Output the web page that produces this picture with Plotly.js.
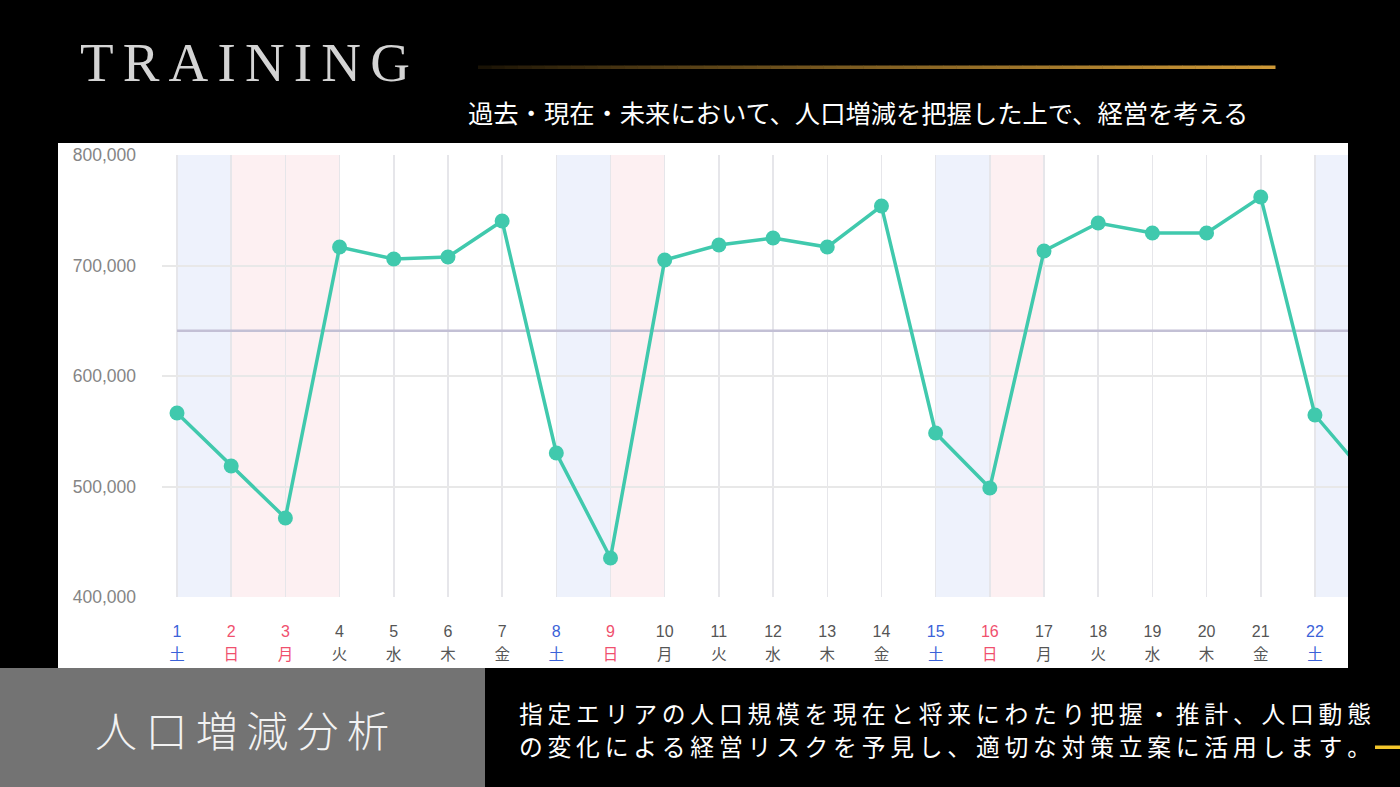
<!DOCTYPE html>
<html>
<head>
<meta charset="utf-8">
<script src="https://cdn.plot.ly/plotly-3.0.1.min.js"></script>
<style>
html,body{margin:0;padding:0;background:#000;}
#chart{width:1400px;height:787px;}
</style>
</head>
<body>
<div id="chart"></div>
<script>
// ---- data ----
const days = [1,2,3,4,5,6,7,8,9,10,11,12,13,14,15,16,17,18,19,20,21,22,23];
const weekdays = ["土","日","月","火","水","木","金","土","日","月","火","水","木","金","土","日","月","火","水","木","金","土","日"];
const holidays = [3]; // national holiday (shown in red)
const population = [566500,518600,471500,716700,705900,707700,740300,530300,435300,705000,718600,724900,716700,753800,548400,498600,713100,738500,729400,729400,762000,564700,507000];
const averageValue = 641000;
const yTicks = [400000,500000,600000,700000,800000];
const yTickLabels = ["400,000","500,000","600,000","700,000","800,000"];

// ---- layout helpers (figure pixels -> paper coords) ----
const W = 1400, H = 787;
const M = {l:162, r:52, t:155, b:190};
const PW = W - M.l - M.r, PH = H - M.t - M.b;
const px = x => (x - M.l) / PW;
const py = y => (H - M.b - y) / PH;

const BLUE = "#3b62d8", RED = "#f0506e", GRAY = "#555555";
function dayColor(i){
  if (weekdays[i] === "土") return BLUE;
  if (weekdays[i] === "日" || holidays.includes(days[i])) return RED;
  return GRAY;
}
const shown = days.filter(d => d <= 22);
const numText = shown.map((d,i) => `<span style="color:${dayColor(i)}">${d}</span>`);
const wdText = shown.map((d,i) => `<span style="color:${dayColor(i)}">${weekdays[i]}</span>`);

const shapes = [];
// white chart panel
shapes.push({type:"rect", xref:"paper", yref:"paper", x0:px(58), x1:px(1348), y0:py(143), y1:py(668), fillcolor:"#ffffff", line:{width:0}, layer:"below"});
// weekend / holiday bands
days.forEach((d,i) => {
  const c = dayColor(i);
  if (c === GRAY) return;
  shapes.push({type:"rect", xref:"x", yref:"paper", x0:d, x1:d+1, y0:0, y1:1,
    fillcolor: c === BLUE ? "#eef2fc" : "#fdf0f2", line:{width:0}, layer:"below"});
});
// gray box bottom-left
shapes.push({type:"rect", xref:"paper", yref:"paper", x0:px(0), x1:px(485), y0:py(787), y1:py(668), fillcolor:"#737373", line:{width:0}, layer:"below"});
// gold gradient line at top
const gx0 = 478, gx1 = 1275, nSeg = 60;
for (let k=0;k<nSeg;k++){
  const t = k/(nSeg-1);
  const r = Math.round(25 + (205-25)*Math.pow(t,0.8));
  const g = Math.round(18 + (152-18)*Math.pow(t,0.8));
  const b = Math.round(5 + (55-5)*Math.pow(t,0.8));
  shapes.push({type:"rect", xref:"paper", yref:"paper",
    x0:px(gx0 + (gx1-gx0)*k/nSeg), x1:px(gx0 + (gx1-gx0)*(k+1)/nSeg + 0.5),
    y0:py(69), y1:py(65.5), fillcolor:`rgb(${r},${g},${b})`, line:{width:0}, layer:"below"});
}
// small gold dash bottom-right
shapes.push({type:"rect", xref:"paper", yref:"paper", x0:px(1375), x1:px(1400), y0:py(749), y1:py(745.5), fillcolor:"#f2c62c", line:{width:0}, layer:"below"});

const sp6 = "\u2006", thin = "\u2009";
const annotations = [
  {text: "TRAINING".split("").join(sp6), xref:"paper", yref:"paper", x:px(78), y:py(62), xanchor:"left", yanchor:"middle", showarrow:false,
   font:{family:"Liberation Serif, DejaVu Serif, serif", size:55, color:"#d4d4d4"}},
  {text: "過去・現在・未来において、人口増減を把握した上で、経営を考える", xref:"paper", yref:"paper", x:px(466), y:py(112), xanchor:"left", yanchor:"middle", showarrow:false,
   font:{family:"Noto Sans CJK JP", size:25.3, color:"#ffffff"}},
  {text: "人口増減分析".split("").join(thin), xref:"paper", yref:"paper", x:px(93), y:py(728), xanchor:"left", yanchor:"middle", showarrow:false,
   font:{family:"Noto Sans CJK JP", size:42, color:"#f2f2f2", weight:300}},
  {text: "指定エリアの人口規模を現在と将来にわたり把握・推計、人口動態".split("").join(thin), xref:"paper", yref:"paper", x:px(517), y:py(712), xanchor:"left", yanchor:"middle", showarrow:false,
   font:{family:"Noto Sans CJK JP", size:23.8, color:"#ffffff"}},
  {text: "の変化による経営リスクを予見し、適切な対策立案に活用します。".split("").join(thin), xref:"paper", yref:"paper", x:px(517), y:py(745), xanchor:"left", yanchor:"middle", showarrow:false,
   font:{family:"Noto Sans CJK JP", size:23.8, color:"#ffffff"}}
];

const traces = [
  {x:[1, 23], y:[averageValue, averageValue], mode:"lines", line:{color:"#c3c0d5", width:2.5}, hoverinfo:"skip", showlegend:false},
  {x:days, y:population, mode:"lines+markers", line:{color:"#40c9ad", width:3.5},
   marker:{color:"#40c9ad", size:15}, showlegend:false, cliponaxis:true},
  {x:[1], y:[400000], xaxis:"x2", mode:"markers", marker:{opacity:0}, hoverinfo:"skip", showlegend:false}
];

const layout = {
  width:W, height:H,
  margin:{l:M.l, r:M.r, t:M.t, b:M.b},
  paper_bgcolor:"#000000", plot_bgcolor:"rgba(0,0,0,0)",
  showlegend:false,
  xaxis:{range:[0.723, 22.61], tickmode:"array", tickvals:shown, ticktext:numText,
    showgrid:true, gridcolor:"#e6e6ea", gridwidth:1.5, zeroline:false, showline:false,
    ticks:"", ticklabelstandoff:23, tickfont:{family:"Liberation Sans, Arial, sans-serif", size:16, color:GRAY}},
  xaxis2:{matches:"x", overlaying:"x", side:"bottom", tickmode:"array", tickvals:shown, ticktext:wdText,
    showgrid:false, zeroline:false, showline:false, ticks:"", ticklabelstandoff:46,
    tickfont:{family:"Noto Sans CJK JP", size:15.5, color:GRAY}},
  yaxis:{range:[400000,800000], tickmode:"array", tickvals:yTicks, ticktext:yTickLabels,
    showgrid:true, gridcolor:"#e8e8e8", gridwidth:2, zeroline:false, showline:false,
    ticks:"", ticklabelstandoff:25, tickfont:{family:"Liberation Sans, Arial, sans-serif", size:17.5, color:"#858585"}},
  shapes: shapes,
  annotations: annotations
};

Plotly.newPlot("chart", traces, layout, {staticPlot:true, displayModeBar:false});
</script>
</body>
</html>
